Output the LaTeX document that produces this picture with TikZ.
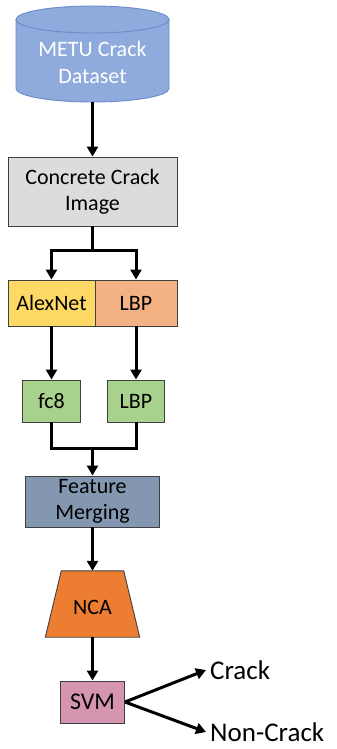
\documentclass[tikz,border=0pt]{standalone}
\usepackage{fontspec}
\setmainfont{Carlito}
\usetikzlibrary{arrows.meta,calc}

\definecolor{dbfill}{HTML}{8FAADC}
\definecolor{dbline}{HTML}{6A8CC8}
\definecolor{imgfill}{HTML}{DCDCDC}
\definecolor{alexfill}{HTML}{FFD966}
\definecolor{lbpfill}{HTML}{F4B183}
\definecolor{featfill}{HTML}{A9D18E}
\definecolor{mergefill}{HTML}{8497B0}
\definecolor{ncafill}{HTML}{ED7D31}
\definecolor{svmfill}{HTML}{D595B0}
\definecolor{edge}{HTML}{404040}

\tikzset{
  box/.style={draw=edge, line width=0.9pt, inner sep=0pt, align=center,
    font=\fontsize{22}{26}\selectfont},
  conn/.style={line width=3pt, black},
  arr/.style={conn, -{Triangle[length=10pt,width=11pt]}},
  outlabel/.style={inner xsep=4pt, inner ysep=0pt, anchor=west,
    font=\fontsize{27}{31}\selectfont}
}

\begin{document}
\begin{tikzpicture}[x=1pt, y=-1pt]
\useasboundingbox (0,0) rectangle (337,749);

% database cylinder
\filldraw[fill=dbfill, draw=dbline, line width=0.9pt]
  (16,19.5) -- (16,88.5)
  arc[start angle=180, end angle=360, x radius=76.5pt, y radius=13.5pt]
  -- (169,19.5) -- cycle;
\filldraw[fill=dbfill, draw=dbline, line width=0.9pt]
  (92.5,19.5) ellipse [x radius=76.5pt, y radius=13.5pt];
\node[inner sep=0pt, minimum width=153pt, minimum height=96pt] (db) at (92.5,54) {};
\node[inner sep=0pt, text=white, align=center, font=\fontsize{22}{27}\selectfont]
  (dbtext) at (92.5,62) {METU Crack\\Dataset};

% processing boxes
\node[box, fill=imgfill, minimum width=169pt, minimum height=69pt]
  (cc) at (92.5,191.5) {Concrete Crack\\Image};
\node[box, fill=alexfill, minimum width=87pt, minimum height=46pt]
  (alex) at (51.5,303) {AlexNet};
\node[box, fill=lbpfill, minimum width=82pt, minimum height=46pt]
  (lbpa) at (136,303) {LBP};
\node[box, fill=featfill, minimum width=58pt, minimum height=42pt]
  (fc) at (51.5,401) {fc8};
\node[box, fill=featfill, minimum width=57pt, minimum height=42pt]
  (lbpb) at (136,401) {LBP};
\node[box, fill=mergefill, minimum width=134pt, minimum height=51pt]
  (fm) at (92.5,501.5) {Feature\\Merging};

% NCA trapezium
\node[inner sep=0pt, minimum width=94pt, minimum height=66pt] (nca) at (92.5,604) {};
\filldraw[fill=ncafill, draw=edge, line width=0.9pt]
  (nca.south west) -- (nca.south east)
  -- ($(nca.north east)+(-16,0)$) -- ($(nca.north west)+(16,0)$) -- cycle;
\node[inner sep=0pt, font=\fontsize{22}{26}\selectfont] (ncatext) at (92.5,607) {NCA};

\node[box, fill=svmfill, minimum width=64pt, minimum height=42pt,
      font=\fontsize{24}{28}\selectfont]
  (svm) at (92.5,702) {SVM};

% outputs
\node[outlabel] (crack) at (206,670) {Crack};
\node[outlabel] (noncrack) at (206,732) {Non-Crack};

% connectors
\coordinate (split) at (92.5,250);
\coordinate (merge) at (92.5,448);
\draw[arr] (db.south) -- (cc.north);
\draw[conn] (cc.south) -- (split);
\draw[arr] (split) -| (alex.north);
\draw[arr] (split) -| (lbpa.north);
\draw[arr] (alex.south) -- (fc.north);
\draw[arr] (lbpa.south) -- (lbpb.north);
\draw[conn] (fc.south) |- (merge) -| (lbpb.south);
\draw[arr] (merge) -- (fm.north);
\draw[arr] (fm.south) -- (nca.north);
\draw[arr] (nca.south) -- (svm.north);
\draw[arr] (svm.east) -- (crack.west);
\draw[arr] (svm.east) -- (noncrack.west);
\end{tikzpicture}
\end{document}
